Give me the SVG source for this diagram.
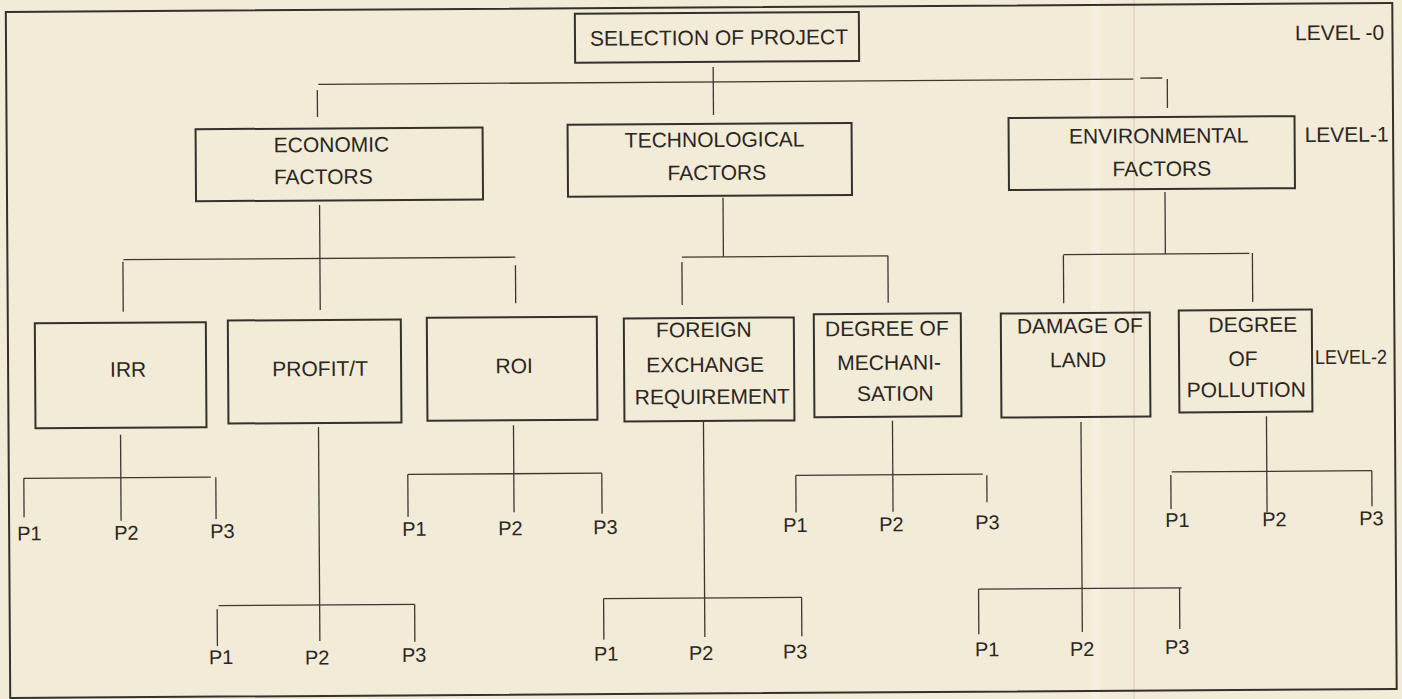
<svg xmlns="http://www.w3.org/2000/svg" width="1402" height="699" viewBox="0 0 1402 699">
  <style>
    .box { fill: none; stroke: #34302b; stroke-width: 2; }
    .frame { fill: none; stroke: #34302b; stroke-width: 2; }
    .wire { fill: none; stroke: #3c3731; stroke-width: 1.3; }
    text { font-family: "Liberation Sans", Arial, sans-serif; fill: #2a2622; }
    .lbl { font-size: 21px; }
    .mid { text-anchor: middle; }
    .p { font-size: 20px; }
  </style>

  <!-- paper -->
  <rect x="0" y="0" width="1402" height="699" fill="#f2ebd7"/>
  <rect x="1091" y="0" width="9" height="699" fill="#f6f0e0"/>
  <line x1="1134" y1="0" x2="1134" y2="699" stroke="#d9d1bd" stroke-width="1.2"/>

  <g transform="rotate(-0.37 700 350)">
    <rect class="frame" x="8" y="7.5" width="1386.5" height="686"/>

    <!-- level captions -->
    <g id="levels" class="lbl">
      <text x="1297" y="44">LEVEL -0</text>
      <text x="1306" y="146">LEVEL-1</text>
      <text x="1315" y="368" font-size="20" textLength="72" lengthAdjust="spacingAndGlyphs">LEVEL-2</text>
    </g>

    <!-- connectors -->
    <g id="connectors" class="wire">
      <!-- level 0 to level 1 -->
      <path d="M715 67 V115"/>
      <path d="M320 82 H1135"/>
      <path d="M1142 81 H1164"/>
      <path d="M1169 82 V111"/>
      <path d="M319 87.5 V114.5"/>
      <!-- economic -->
      <path d="M320.5 202.5 V307.5"/>
      <path d="M124 256 H516"/>
      <path d="M123.5 258 V308"/>
      <path d="M516 264 V302"/>
      <!-- technological -->
      <path d="M724 198 V257"/>
      <path d="M682.5 257 H888.5"/>
      <path d="M682.5 262 V305"/>
      <path d="M888.5 257 V304"/>
      <!-- environmental -->
      <path d="M1166 195 V257"/>
      <path d="M1064 257 H1250"/>
      <path d="M1064 257.5 V305.5"/>
      <path d="M1253 256.5 V305.5"/>
      <!-- IRR -->
      <path d="M120 431 V517"/>
      <path d="M23 474 H210"/>
      <path d="M23 474 V513"/>
      <path d="M215 474 V516"/>
      <!-- PROFIT/T -->
      <path d="M318 424.5 V638.5"/>
      <path d="M217 602.5 H413"/>
      <path d="M215.5 606 V643"/>
      <path d="M413 602.5 V640"/>
      <!-- ROI -->
      <path d="M513 424 V511"/>
      <path d="M407 472.5 H601"/>
      <path d="M407 472.5 V515"/>
      <path d="M601 472.5 V513"/>
      <!-- FOREIGN EXCHANGE REQUIREMENT -->
      <path d="M703 422 V637"/>
      <path d="M602 598 H800"/>
      <path d="M602 598 V639"/>
      <path d="M800 598 V637"/>
      <!-- DEGREE OF MECHANISATION -->
      <path d="M892 422 V513"/>
      <path d="M795 476 H982"/>
      <path d="M795 476 V513"/>
      <path d="M986 477 V504"/>
      <!-- DAMAGE OF LAND -->
      <path d="M1080.5 424.5 V634.5"/>
      <path d="M977 591 H1180"/>
      <path d="M977 591 V636"/>
      <path d="M1178 591 V632"/>
      <!-- DEGREE OF POLLUTION -->
      <path d="M1266 420 V516"/>
      <path d="M1171 475 H1371"/>
      <path d="M1170 478 V512"/>
      <path d="M1371 475 V510.5"/>
    </g>

    <!-- level 0 -->
    <g id="selection">
      <rect class="box" x="577" y="13" width="284" height="49"/>
      <text class="lbl mid" x="721" y="45">SELECTION OF PROJECT</text>
    </g>

    <!-- level 1 -->
    <g id="economic">
      <rect class="box" x="197" y="126" width="287" height="72"/>
      <text class="lbl" x="275" y="149.5">ECONOMIC</text>
      <text class="lbl" x="275" y="181.5">FACTORS</text>
    </g>
    <g id="technological">
      <rect class="box" x="569" y="124" width="284" height="72"/>
      <text class="lbl mid" x="716" y="147">TECHNOLOGICAL</text>
      <text class="lbl mid" x="718" y="180">FACTORS</text>
    </g>
    <g id="environmental">
      <rect class="box" x="1010" y="120" width="286" height="72"/>
      <text class="lbl mid" x="1160" y="146">ENVIRONMENTAL</text>
      <text class="lbl mid" x="1163" y="179">FACTORS</text>
    </g>

    <!-- level 2 -->
    <g id="irr">
      <rect class="box" x="35" y="319" width="171" height="105"/>
      <text class="lbl mid" x="128" y="373">IRR</text>
    </g>
    <g id="profit">
      <rect class="box" x="228" y="317.5" width="173" height="103"/>
      <text class="lbl mid" x="320" y="373.5">PROFIT/T</text>
    </g>
    <g id="roi">
      <rect class="box" x="427" y="316" width="170" height="103"/>
      <text class="lbl mid" x="514" y="372">ROI</text>
    </g>
    <g id="foreign-exchange">
      <rect class="box" x="624" y="318" width="170" height="103"/>
      <text class="lbl mid" x="704" y="337">FOREIGN</text>
      <text class="lbl mid" x="705" y="372">EXCHANGE</text>
      <text class="lbl mid" x="712" y="404">REQUIREMENT</text>
    </g>
    <g id="mechanisation">
      <rect class="box" x="814" y="315" width="147" height="103"/>
      <text class="lbl mid" x="887" y="337">DEGREE OF</text>
      <text class="lbl mid" x="889" y="371">MECHANI-</text>
      <text class="lbl mid" x="895" y="402">SATION</text>
    </g>
    <g id="damage-land">
      <rect class="box" x="1001" y="315.5" width="149" height="104"/>
      <text class="lbl mid" x="1080" y="335.5">DAMAGE OF</text>
      <text class="lbl mid" x="1078" y="369.5">LAND</text>
    </g>
    <g id="pollution">
      <rect class="box" x="1179" y="313.5" width="133" height="102"/>
      <text class="lbl mid" x="1253" y="335.5">DEGREE</text>
      <text class="lbl mid" x="1243" y="369.5">OF</text>
      <text class="lbl mid" x="1246" y="400.5">POLLUTION</text>
    </g>

    <!-- level 3 alternatives -->
    <g id="irr-p" class="p">
      <text x="16" y="536">P1</text>
      <text x="113" y="536">P2</text>
      <text x="209" y="535">P3</text>
    </g>
    <g id="profit-p" class="p">
      <text x="207" y="661">P1</text>
      <text x="303" y="662">P2</text>
      <text x="400" y="660">P3</text>
    </g>
    <g id="roi-p" class="p">
      <text x="401" y="534">P1</text>
      <text x="497" y="534">P2</text>
      <text x="592" y="533.5">P3</text>
    </g>
    <g id="foreign-p" class="p">
      <text x="592" y="660">P1</text>
      <text x="687" y="660">P2</text>
      <text x="781" y="659">P3</text>
    </g>
    <g id="mechanisation-p" class="p">
      <text x="782" y="532.5">P1</text>
      <text x="878" y="532.5">P2</text>
      <text x="974" y="531">P3</text>
    </g>
    <g id="damage-p" class="p">
      <text x="973" y="658">P1</text>
      <text x="1068" y="658.5">P2</text>
      <text x="1163" y="657">P3</text>
    </g>
    <g id="pollution-p" class="p">
      <text x="1164" y="530">P1</text>
      <text x="1261" y="530">P2</text>
      <text x="1358" y="529.5">P3</text>
    </g>
  </g>
</svg>
